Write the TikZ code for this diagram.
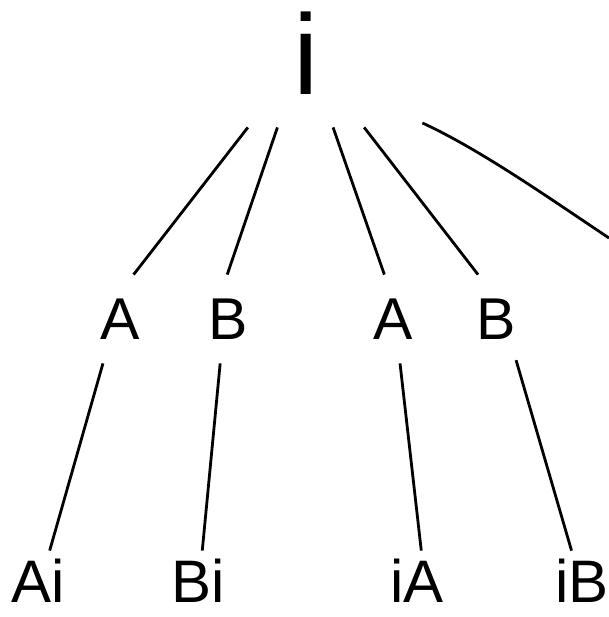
\documentclass[tikz,border=0pt]{standalone}
\usepackage{fontspec}
\setmainfont{Liberation Sans}

\begin{document}
\begin{tikzpicture}[x=0.5pt,y=-0.5pt,
  root/.style={inner sep=0pt, minimum width=116pt, minimum height=74pt, font=\fontsize{57}{60}\selectfont},
  mid/.style={inner sep=0pt, minimum height=44pt, font=\fontsize{29.5}{32}\selectfont},
  leaf/.style={inner sep=0pt, minimum height=30pt, font=\fontsize{30}{32}\selectfont},
  edge/.style={line width=1.4pt}]
\useasboundingbox (0,0) rectangle (609,617);

\node[root] (top) at (306,53) {i};

\node[mid] (a1) at (120,319) {A};
\node[mid] (b1) at (228,319) {B};
\node[mid] (a2) at (393,319) {A};
\node[mid] (b2) at (496,319) {B};

\node[leaf] (ai) at (38,581) {Ai};
\node[leaf] (bi) at (198,581) {Bi};
\node[leaf] (ia) at (417,581) {iA};
\node[leaf] (ib) at (582,581) {iB};

\coordinate (off) at (609,238);

% upper level
\foreach \n/\s/\t in {a1/232/73, b1/249/91, a2/290/101, b2/308/112}
  \draw[edge] (top.\s) -- (\n.\t);

\draw[edge] (top.329) .. controls (481,150) and (549,198) .. (off);

% lower level
\foreach \m/\n/\s/\t in {a1/ai/249/69, b1/bi/260/82, a2/ia/279/82, b2/ib/296/109}
  \draw[edge] (\m.\s) -- (\n.\t);

\end{tikzpicture}
\end{document}
